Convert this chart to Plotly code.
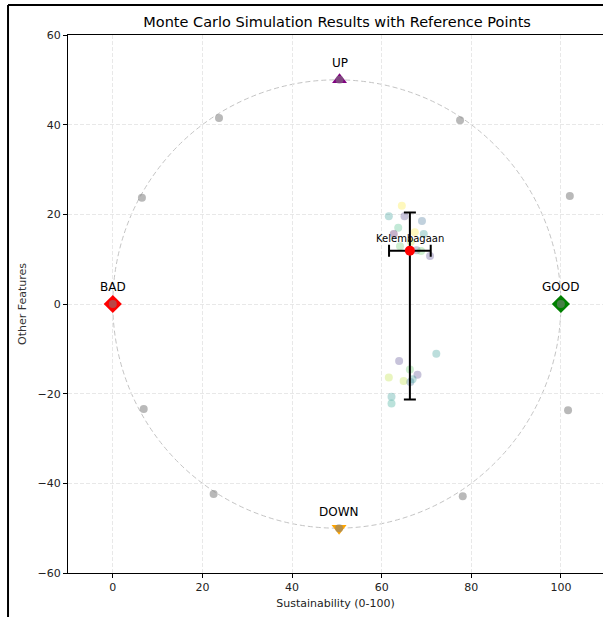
import plotly.graph_objects as go

# Reference points
ref_names = ["BAD", "GOOD", "UP", "DOWN"]
ref_x = [0, 100, 50.6, 50.5]
ref_y = [0, 0, 50, -50]
ref_colors = ["#ff0000", "#008000", "#800080", "#ffa500"]
ref_symbols = ["diamond", "diamond", "triangle-up", "triangle-down"]

# Anchor (gray) points
anchor_x = [0, 6.5, 23.7, 50.6, 77.5, 102, 100, 101.6, 78.1, 50.5, 22.5, 6.9]
anchor_y = [0, 23.7, 41.5, 50, 41, 24.1, 0, -23.7, -42.9, -50, -42.4, -23.4]

# Monte Carlo simulation points
mc_x = [64.5, 61.6, 65.1, 69.0, 63.7, 62.7, 67.4, 69.4, 64.1, 67.8, 68.8, 70.8, 66.5,
        72.2, 63.9, 66.3, 61.6, 68.0, 64.9, 66.4, 66.9, 62.2, 62.2]
mc_y = [21.9, 19.6, 19.6, 18.5, 17.0, 15.6, 16.0, 15.6, 12.9, 12.0, 11.8, 10.7, 13.9,
        -11.1, -12.7, -14.6, -16.4, -15.8, -17.2, -17.4, -16.8, -20.7, -22.2]
mc_c = ["#fde725", "#21918c", "#443983", "#31688e", "#35b779", "#440154", "#fde725", "#21918c",
        "#5ec962", "#3b528b", "#5ec962", "#443983", "#b5de2b",
        "#21918c", "#443983", "#5ec962", "#b5de2b", "#443983", "#b5de2b", "#31688e", "#21918c",
        "#21918c", "#1f9e89"]

# Summary (mean with spread)
dim_name = "Kelembagaan"
mean_x = 66.3
mean_y = 11.9
err_x = 4.65
err_y_plus = 8.5
err_y_minus = 33.2

fig = go.Figure()

# circle
fig.add_shape(type="circle", xref="x", yref="y", x0=0, x1=100, y0=-50, y1=50,
              line=dict(color="#c4c4c4", width=1, dash="5px,3px"), layer="below")

for n, x, y, c, s in zip(ref_names, ref_x, ref_y, ref_colors, ref_symbols):
    size = 14 if s == "diamond" else 13
    fig.add_trace(go.Scatter(x=[x], y=[y], mode="markers",
                             marker=dict(symbol=s, size=size, color=c, line=dict(width=0)),
                             showlegend=False))

fig.add_trace(go.Scatter(x=anchor_x, y=anchor_y, mode="markers",
                         marker=dict(size=8, color="gray", opacity=0.55, line=dict(width=0)),
                         showlegend=False))

fig.add_trace(go.Scatter(x=mc_x, y=mc_y, mode="markers",
                         marker=dict(size=8, color=mc_c, opacity=0.3, line=dict(width=0)),
                         showlegend=False))

fig.add_trace(go.Scatter(x=[mean_x], y=[mean_y], mode="markers",
                         marker=dict(size=10, color="#ff0000", line=dict(width=0)),
                         error_x=dict(type="data", array=[err_x], color="black", thickness=2, width=6),
                         error_y=dict(type="data", array=[err_y_plus], arrayminus=[err_y_minus],
                                      color="black", thickness=2, width=6),
                         showlegend=False))

font = "DejaVu Sans"
# labels
label_off = [(0, 3.9), (0, 3.9), (0, 3.7), (0, 3.7)]
for n, x, y, (dx, dy) in zip(ref_names, ref_x, ref_y, label_off):
    fig.add_annotation(x=x + dx, y=y + dy, text=n, showarrow=False, xref="x", yref="y",
                       font=dict(family=font, size=12, color="black"))
fig.add_annotation(x=mean_x, y=mean_y + 2.7, text=dim_name, showarrow=False,
                   font=dict(family=font, size=10, color="black"))

# figure frame
fig.add_shape(type="line", xref="paper", yref="paper", x0=-0.1121, x1=-0.1121, y0=-0.2, y1=1.0558,
              line=dict(color="black", width=2))
fig.add_shape(type="line", xref="paper", yref="paper", x0=-0.1121, x1=1.2, y0=1.0558, y1=1.0558,
              line=dict(color="black", width=2))

axis_common = dict(showline=True, linecolor="black", linewidth=1, ticks="outside", ticklen=4,
                   tickcolor="black", showgrid=True, gridcolor="#e8e8e8", griddash="4px,2px",
                   zeroline=False, tickfont=dict(family=font, size=11, color="#222222"))
fig.update_xaxes(range=[-10, 109.4], tickvals=[0, 20, 40, 60, 80, 100], mirror=True,
                 title=dict(text="Sustainability (0-100)", font=dict(family=font, size=11, color="#222222"), standoff=6),
                 **axis_common)
fig.update_yaxes(range=[-60, 60], tickvals=[-60, -40, -20, 0, 20, 40, 60],
                 title=dict(text="Other Features", font=dict(family=font, size=11, color="#333333"), standoff=8),
                 **axis_common)

fig.update_layout(width=603, height=617, margin=dict(l=68, r=0, t=35, b=44),
                  plot_bgcolor="white", paper_bgcolor="white",
                  title=dict(text="Monte Carlo Simulation Results with Reference Points",
                             x=0.503, xanchor="center", y=1 - 22 / 617, yanchor="middle",
                             xref="paper", font=dict(family=font, size=14.5, color="black")))

fig.write_html("out.html")
